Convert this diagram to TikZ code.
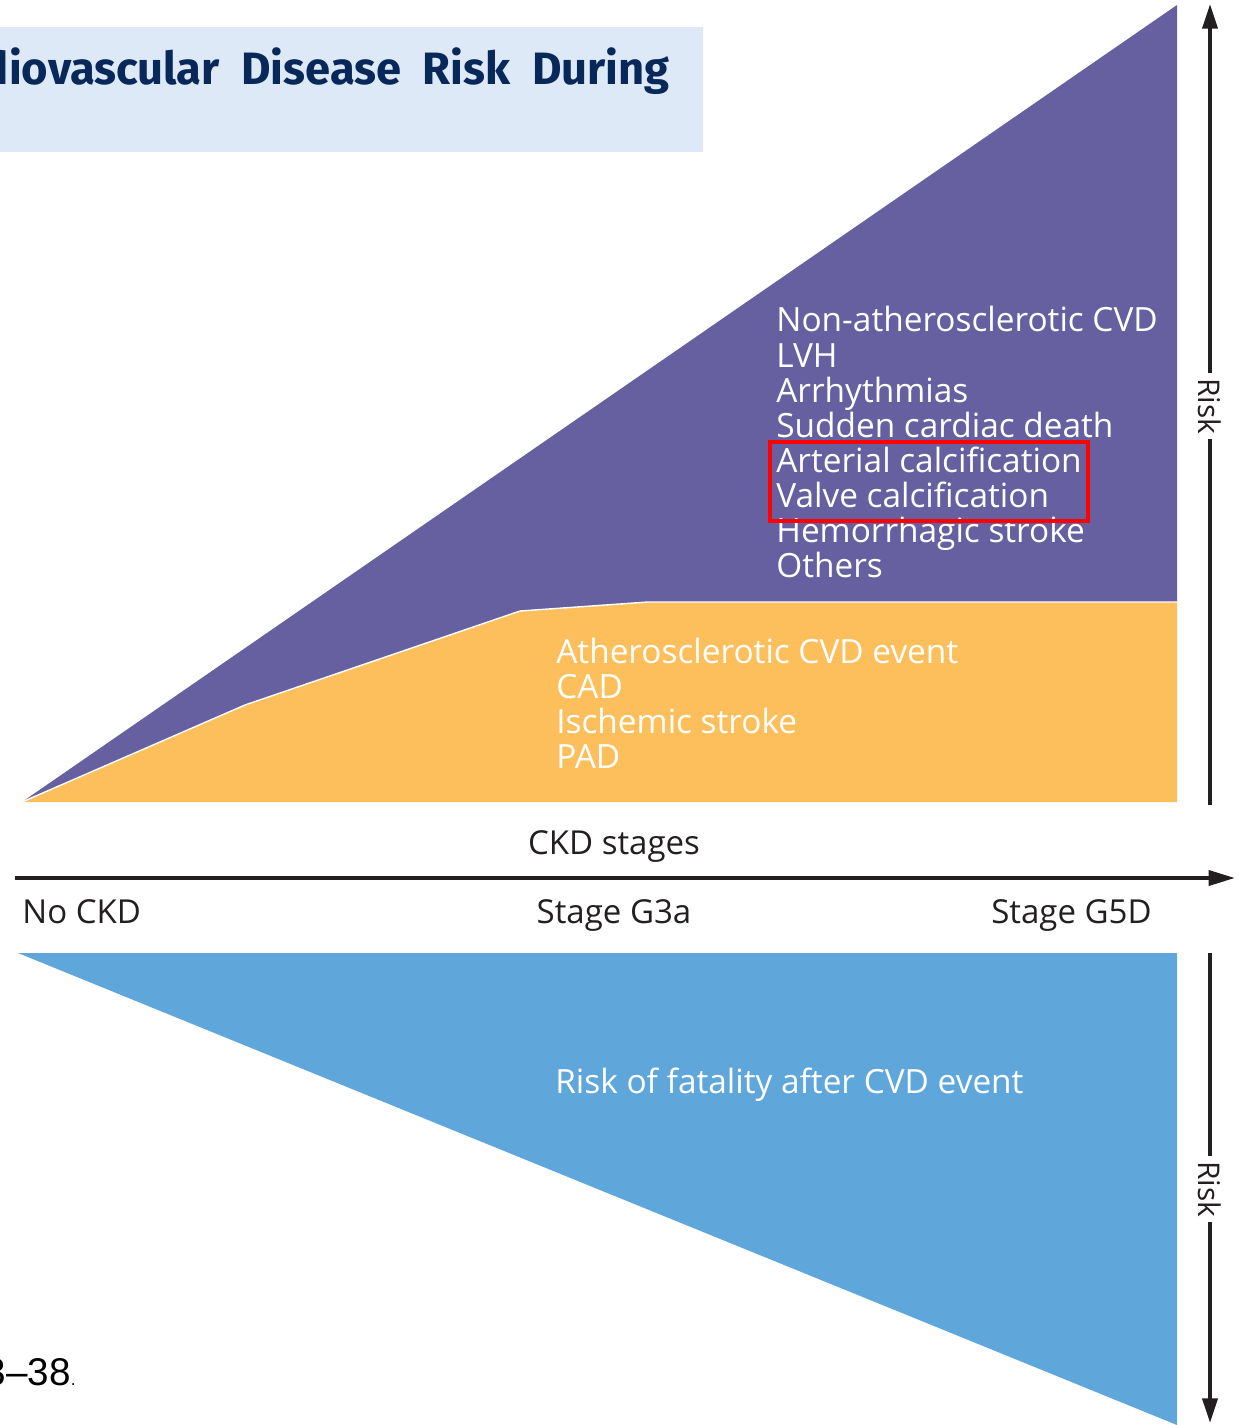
\documentclass[tikz,border=0pt]{standalone}
\usepackage{fontspec}
\setmainfont{Open Sans}
\newfontfamily\titlefont{Fira Sans}
\newfontfamily\notefont{Liberation Sans}
\usepackage{xcolor}
\usetikzlibrary{arrows.meta,fit}

\definecolor{ckdpurple}{RGB}{102,96,160}
\definecolor{ckdorange}{RGB}{253,191,91}
\definecolor{ckdblue}{RGB}{95,166,218}
\definecolor{titlebg}{RGB}{221,233,247}
\definecolor{titlenavy}{RGB}{8,40,90}
\definecolor{ckdtext}{RGB}{35,31,32}

\tikzset{
  listtext/.style={anchor=base west, inner sep=0pt, text=white,
    font=\fontsize{19}{23}\selectfont, text height=13.5pt, text depth=4pt},
  axistext/.style={inner sep=0pt, text=ckdtext, font=\fontsize{18.8}{22}\selectfont},
  risklabel/.style={rotate=-90, fill=white, inner sep=2.5pt, text=ckdtext,
    font=\fontsize{17}{20}\selectfont},
  riskline/.style={line width=2.2pt, draw=ckdtext},
  risktip/.style={-{Triangle[length=14pt,width=8.5pt]}},
  redbox/.style={draw=red, line width=2.3pt, inner sep=3.5pt},
}

\begin{document}
\begin{tikzpicture}[x=0.02cm, y=-0.02cm]
    \useasboundingbox (0,0) rectangle (1238,1425);

    % Title banner (cut at the left edge)
    \begin{scope}
        \clip (0,27) rectangle (703,152);
        \fill[titlebg] (0,27) rectangle (703,152);
        \node[anchor=base east, inner sep=0pt, text=titlenavy,
              font=\titlefont\bfseries\fontsize{25.8}{30}\selectfont]
              (title) at (670,85) {Cardiovascular\ \ Disease\ \ Risk\ \ During};
    \end{scope}

    % Orange band
    \fill[ckdorange] (22,802) -- (245,705) -- (520,611) -- (648,602)
        -- (1177,602) -- (1177,802) -- cycle;
    % Purple band
    \fill[ckdpurple] (22,802) -- (1177,5) -- (1177,602) -- (648,602)
        -- (520,611) -- (245,705) -- cycle;
    \draw[white, line width=0.8pt] (22,802) -- (245,705) -- (520,611) -- (648,602) -- (1177,602);

    % Blue triangle
    \fill[ckdblue] (18,953) -- (1177,953) -- (1177,1425) -- cycle;

    % Upper list
    \foreach \txt [count=\i] in {Non-atherosclerotic CVD, LVH, Arrhythmias,
        Sudden cardiac death, Arterial calcification, Valve calcification,
        Hemorrhagic stroke, Others}
        \node[listtext] (hi\i) at (776,{296.9+35.1*\i}) {\txt};
    \node[redbox, fit=(hi5)(hi6)] (mark) {};

    % Lower list
    \foreach \txt [count=\i] in {Atherosclerotic CVD event, CAD, Ischemic stroke, PAD}
        \node[listtext] (lo\i) at (556,{628+35*\i}) {\txt};

    \node[listtext] (fatal) at (555,1093) {Risk of fatality after CVD event};

    % CKD axis
    \coordinate (xstart) at (15,878);
    \coordinate (xend) at (1235,878);
    \draw[riskline, -{Triangle[length=15pt,width=8.5pt]}] (xstart) -- (xend);
    \node[axistext, anchor=base] (stages) at (614,854) {CKD stages};
    \node[axistext, anchor=base west] (nockd) at (22,923) {No CKD};
    \node[axistext, anchor=base] (g3a) at (614,923) {Stage G3a};
    \node[axistext, anchor=base east] (g5d) at (1152,923) {Stage G5D};

    % Upper risk arrow
    \coordinate (upbase) at (1210,805);
    \coordinate (uptop) at (1210,4);
    \node[risklabel] (riskup) at (1210,406) {Risk};
    \draw[riskline] (upbase) -- (riskup);
    \draw[riskline, risktip] (riskup) -- (uptop);

    % Lower risk arrow
    \coordinate (downbase) at (1210,953);
    \coordinate (downtip) at (1210,1423);
    \node[risklabel] (riskdown) at (1210,1189) {Risk};
    \draw[riskline] (downbase) -- (riskdown);
    \draw[riskline, risktip] (riskdown) -- (downtip);

    % Reference note (cut at the left edge)
    \begin{scope}
        \clip (0,1330) rectangle (120,1400);
        \node[anchor=base east, inner sep=0pt, font=\notefont\fontsize{22}{26}\selectfont]
              (note) at (76,1385) {33–38{\fontsize{10}{12}\selectfont.}};
    \end{scope}
\end{tikzpicture}
\end{document}
